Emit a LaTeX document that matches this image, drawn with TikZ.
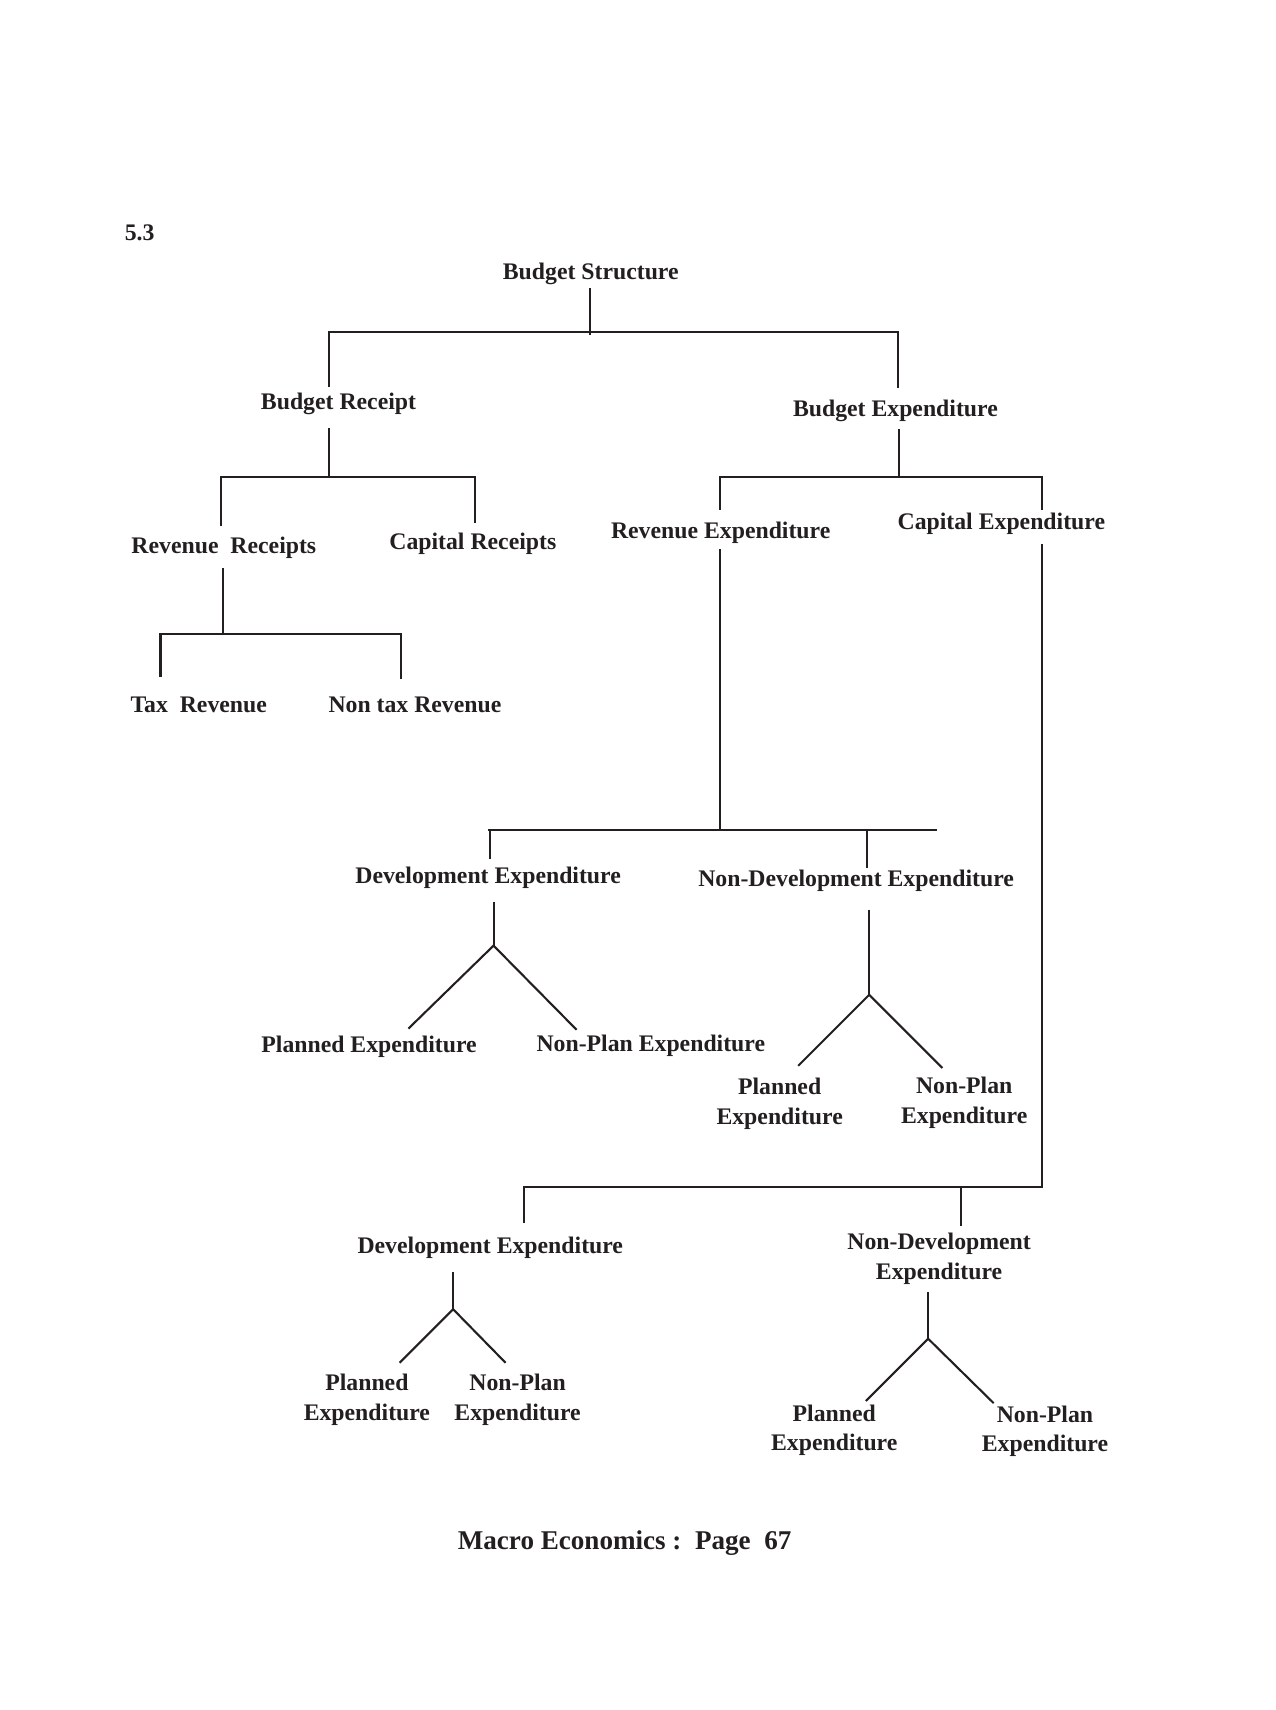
\documentclass[tikz,border=0pt]{standalone}
\usepackage{fontspec}
\setmainfont{Liberation Serif}
\definecolor{ink}{RGB}{35,31,32}
\begin{document}
\begin{tikzpicture}[x=0.524pt,y=-0.524pt,
  lbl/.style={font=\fontsize{11.4}{14.1}\selectfont\bfseries, text=ink, inner sep=1pt, align=center, yshift=-1pt},
  ln/.style={line width=1pt, draw=ink, line join=miter}]
\useasboundingbox (0,0) rectangle (1168,1566);
% labels
\node[lbl, anchor=west] (n53) at (112,211) {5.3};
\node[lbl] (bs) at (541,249) {Budget Structure};
\node[lbl] (br) at (310,368) {Budget Receipt};
\node[lbl] (be) at (820,374) {Budget Expenditure};
\node[lbl] (rr) at (205,500) {Revenue\ \ Receipts};
\node[lbl] (cr) at (433,496) {Capital Receipts};
\node[lbl] (tr) at (182,644) {Tax\ \ Revenue};
\node[lbl] (ntr) at (380,644) {Non tax Revenue};
\node[lbl] (re) at (660,486) {Revenue Expenditure};
\node[lbl] (ce) at (917,478) {Capital Expenditure};
\node[lbl] (deA) at (447,802) {Development Expenditure};
\node[lbl] (ndeA) at (784,805) {Non-Development Expenditure};
\node[lbl] (peA) at (338,957) {Planned Expenditure};
\node[lbl] (npA) at (596,956) {Non-Plan Expenditure};
\node[lbl] (peB) at (714,1009) {Planned\\Expenditure};
\node[lbl] (npB) at (883,1008) {Non-Plan\\Expenditure};
\node[lbl] (deB) at (449,1141) {Development Expenditure};
\node[lbl] (ndeB) at (860,1151) {Non-Development\\Expenditure};
\node[lbl] (peC) at (336,1280) {Planned\\Expenditure};
\node[lbl] (npC) at (474,1280) {Non-Plan\\Expenditure};
\node[lbl] (peD) at (764,1308) {Planned\\Expenditure};
\node[lbl] (npD) at (957,1309) {Non-Plan\\Expenditure};
\node[lbl, font=\fontsize{13}{15}\selectfont\bfseries] (foot) at (572,1411) {Macro Economics :\ \ Page\ \ 67};
% junction coordinates
\coordinate (bsT) at (540,264); \coordinate (bsJ) at (540,307);
\coordinate (brT) at (301,354); \coordinate (brL) at (301,304);
\coordinate (beR) at (822,304); \coordinate (beT) at (822,355);
\coordinate (brS) at (301,392); \coordinate (brJ) at (301,437);
\coordinate (rrT) at (202,482); \coordinate (rrC) at (202,437);
\coordinate (crC) at (435,437); \coordinate (crT) at (435,479);
\coordinate (rrS) at (204,520); \coordinate (rrJ) at (204,581);
\coordinate (trT) at (147,620); \coordinate (trC) at (147,581);
\coordinate (ntrC) at (367,581); \coordinate (ntrT) at (367,622);
\coordinate (beS) at (823,393); \coordinate (beJ) at (823,437);
\coordinate (reT) at (659,467); \coordinate (reC) at (659,437);
\coordinate (ceC) at (954,437); \coordinate (ceT) at (954,467);
\coordinate (reS) at (659,503); \coordinate (reJ) at (659,760);
\coordinate (hA) at (447,760); \coordinate (hB) at (858,760);
\coordinate (deAC) at (449,760); \coordinate (deAT) at (449,787);
\coordinate (ndeAC) at (794,760); \coordinate (ndeAT) at (794,795);
\coordinate (ceS) at (954,498); \coordinate (ceK) at (954,1087);
\coordinate (deBC) at (480,1087); \coordinate (deBT) at (480,1120);
\coordinate (ndeBC) at (880,1087); \coordinate (ndeBT) at (880,1123);
\coordinate (deAS) at (452,826); \coordinate (deAJ) at (452,866);
\coordinate (peAT) at (374,942); \coordinate (npAT) at (528,943);
\coordinate (ndeAS) at (796,833); \coordinate (ndeAJ) at (796,911);
\coordinate (peBT) at (731,976); \coordinate (npBT) at (863,978);
\coordinate (deBS) at (415,1165); \coordinate (deBJ) at (415,1199);
\coordinate (peCT) at (366,1248); \coordinate (npCT) at (463,1248);
\coordinate (ndeBS) at (850,1183); \coordinate (ndeBJ) at (850,1226);
\coordinate (peDT) at (793,1283); \coordinate (npDT) at (910,1285);
% connectors
\draw[ln] (bsT) -- (bsJ);
\draw[ln] (brT) -- (brL) -- (beR) -- (beT);
\draw[ln] (brS) -- (brJ);
\draw[ln] (rrT) -- (rrC) -- (crC) -- (crT);
\draw[ln] (rrS) -- (rrJ);
\draw[ln] (trT) -- (trC) -- (ntrC) -- (ntrT);
\draw[ln] (beS) -- (beJ);
\draw[ln] (reT) -- (reC) -- (ceC) -- (ceT);
\draw[ln] (reS) -- (reJ);
\draw[ln] (hA) -- (hB);
\draw[ln] (deAC) -- (deAT);
\draw[ln] (ndeAC) -- (ndeAT);
\draw[ln] (ceS) -- (ceK) -- (deBC) -- (deBT);
\draw[ln] (ndeBC) -- (ndeBT);
\draw[ln] (deAS) -- (deAJ);
\draw[ln] (peAT) -- (deAJ) -- (npAT);
\draw[ln] (ndeAS) -- (ndeAJ);
\draw[ln] (peBT) -- (ndeAJ) -- (npBT);
\draw[ln] (deBS) -- (deBJ);
\draw[ln] (peCT) -- (deBJ) -- (npCT);
\draw[ln] (ndeBS) -- (ndeBJ);
\draw[ln] (peDT) -- (ndeBJ) -- (npDT);
\end{tikzpicture}
\end{document}
